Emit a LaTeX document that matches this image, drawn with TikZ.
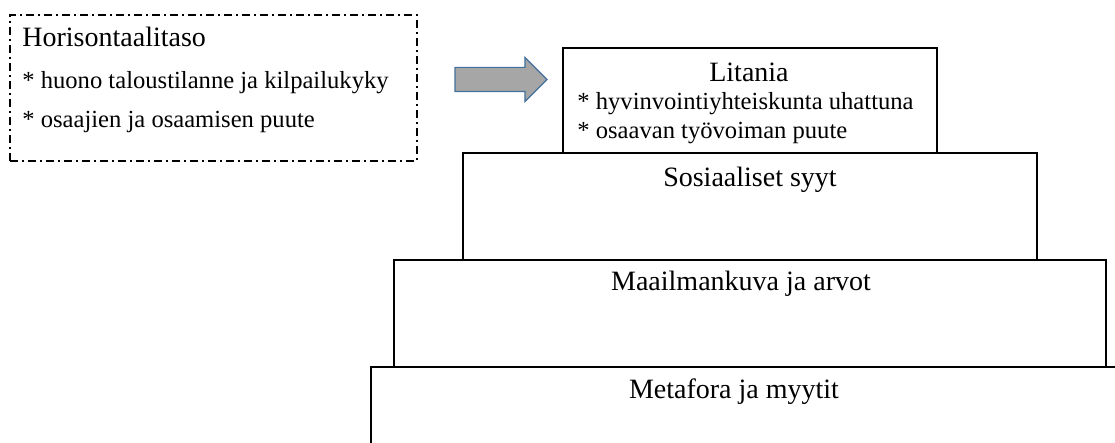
\documentclass[tikz,border=0pt]{standalone}
\usepackage{fontspec}
\setmainfont{Liberation Serif}
\usetikzlibrary{shapes.arrows}
\definecolor{arrowgray}{RGB}{166,166,166}
\definecolor{arrowblue}{RGB}{65,113,156}
\begin{document}
\begin{tikzpicture}[x=0.5pt,y=-0.5pt,
          lvl/.style={draw,line width=0.75pt,inner sep=0pt,fill=white},
          hd/.style={font=\fontsize{14}{16}\selectfont,anchor=base,inner sep=0pt},
          it/.style={font=\fontsize{12.3}{14}\selectfont,anchor=base west,inner sep=0pt},
          hz/.style={draw,line width=0.6pt,dash pattern=on 4pt off 2pt on 1pt off 2pt,inner sep=0pt}
          ]
          \useasboundingbox (0,0) rectangle (1115,443);
          \clip (0,0) rectangle (1115,443);
          \node[hz,minimum width=203.5pt,minimum height=73pt] (hor) at (213.5,88) {};
          \node[hd,anchor=base west] (hort) at (22,47) {Horisontaalitaso};
          \node[it] (h1) at (22,89) {* huono taloustilanne ja kilpailukyky};
          \node[it] (h2) at (22,128) {* osaajien ja osaamisen puute};
          \node[single arrow,draw=arrowblue,fill=arrowgray,line width=0.6pt,inner xsep=0pt,inner ysep=5.75pt,
                minimum height=46pt,minimum width=21.5pt,single arrow head extend=5pt] (arr) at (495,79.5) {};
          \node[lvl,minimum width=379pt,minimum height=53.5pt] (met) at (750,420.5) {};
          \node[lvl,minimum width=356pt,minimum height=53.5pt] (maa) at (750,313.5) {};
          \node[lvl,minimum width=287pt,minimum height=53.5pt] (sos) at (750,206.5) {};
          \node[lvl,minimum width=187pt,minimum height=52.5pt] (lit) at (750,100.5) {};
          \node[hd] (litt) at (749,82) {Litania};
          \node[it] (l1) at (577,110) {* hyvinvointiyhteiskunta uhattuna};
          \node[it] (l2) at (577,139) {* osaavan työvoiman puute};
          \node[hd] (sost) at (750,187) {Sosiaaliset syyt};
          \node[hd] (maat) at (741,291) {Maailmankuva ja arvot};
          \node[hd] (mett) at (734,399) {Metafora ja myytit};
        \end{tikzpicture}
\end{document}
